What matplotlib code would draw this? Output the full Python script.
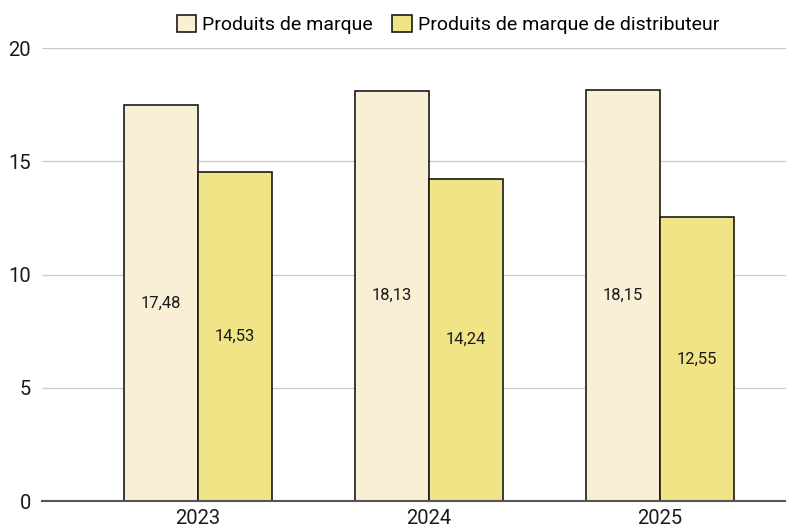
import numpy as np
import matplotlib.pyplot as plt

plt.rcParams['font.family'] = ['Roboto', 'DejaVu Sans']

years = ["2023", "2024", "2025"]
marque = [17.48, 18.13, 18.15]
mdd = [14.53, 14.24, 12.55]
series_names = ["Produits de marque", "Produits de marque de distributeur"]
colors = ["#F8EFD4", "#F0E486"]

fig = plt.figure(figsize=(7.86, 5.29), dpi=100)
ax = fig.add_axes([0.0534, 0.0529, 0.9466, 0.856])

x = np.arange(len(years))
w = 0.32
b1 = ax.bar(x - w / 2, marque, w, color=colors[0], edgecolor="#1a1a1a", linewidth=1.2,
            label=series_names[0], zorder=3)
b2 = ax.bar(x + w / 2, mdd, w, color=colors[1], edgecolor="#1a1a1a", linewidth=1.2,
            label=series_names[1], zorder=3)

for bars, vals in ((b1, marque), (b2, mdd)):
    for rect, v in zip(bars, vals):
        ax.text(rect.get_x() + rect.get_width() / 2, v / 2, f"{v:.2f}".replace(".", ","),
                ha="center", va="center", fontsize=12, color="#1a1a1a", zorder=4)

ax.set_ylim(0, 20)
ax.set_xlim(-0.675, 2.545)
ax.set_yticks([0, 5, 10, 15, 20])
ax.set_xticks(x)
ax.set_xticklabels(years)
ax.tick_params(axis="both", length=0, labelsize=14.5, colors="#1a1a1a")
ax.tick_params(axis="y", pad=8)
ax.tick_params(axis="x", pad=6)
ax.grid(axis="y", color="#cccccc", linewidth=1, zorder=0)
for s in ["top", "right", "left"]:
    ax.spines[s].set_visible(False)
ax.spines["bottom"].set_color("#555555")
ax.spines["bottom"].set_linewidth(1.5)
ax.spines["bottom"].set_zorder(5)

fig.legend(loc="upper center", bbox_to_anchor=(0.57, 1.005), ncol=2, frameon=False,
           fontsize=14, handlelength=1.0, handleheight=1.0, handletextpad=0.3,
           columnspacing=1.0)

fig.savefig("out.png", dpi=100)
